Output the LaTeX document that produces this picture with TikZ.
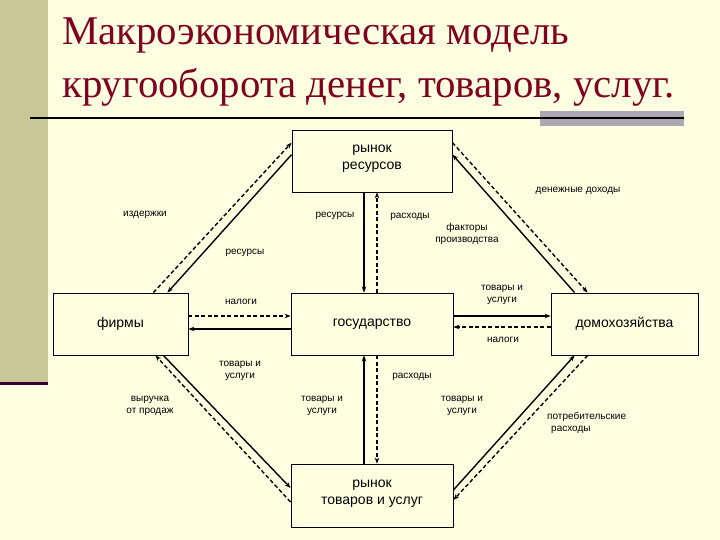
\documentclass[tikz,border=0pt]{standalone}
\usepackage{fontspec}
\setmainfont{Liberation Sans}
\newfontfamily\titlefont{Liberation Serif}
\usetikzlibrary{arrows.meta,positioning}

\definecolor{bgcol}{RGB}{255,255,226}
\definecolor{stripcol}{RGB}{200,200,150}
\definecolor{barcol}{RGB}{172,167,178}
\definecolor{titlecol}{RGB}{128,0,32}
\definecolor{darkline}{RGB}{51,0,51}

\tikzset{
  box/.style={draw,line width=0.8pt,minimum height=62pt,align=center,font=\fontsize{14}{17}\selectfont},
  lbl/.style={align=center,font=\fontsize{10}{12}\selectfont,inner sep=1pt},
  flow/.style={line width=1.4pt,-{Stealth[length=6pt,width=4.5pt]}},
  money/.style={flow,dash pattern=on 4pt off 2.5pt}
}

\begin{document}
\begin{tikzpicture}[x=1pt,y=-1pt]
\useasboundingbox (0,0) rectangle (720,540);
\fill[bgcol] (0,0) rectangle (720,540);
\fill[stripcol] (0,0) rectangle (48,382);
\fill[darkline] (0,382) rectangle (48,385);
\fill[barcol] (540,111) rectangle (684,126);
\draw[line width=2pt] (30,118) -- (684,118);

\node[anchor=base west,text=titlecol,font=\titlefont\fontsize{40.8}{48}\selectfont,inner sep=0pt] (title1) at (62,45) {Макроэкономическая модель};
\node[anchor=base west,text=titlecol,font=\titlefont\fontsize{40.8}{48}\selectfont,inner sep=0pt] (title2) at (62,98) {кругооборота денег, товаров, услуг.};

% boxes
\node[box,minimum width=160pt] (res) at (372,161) {рынок\\ресурсов\\[-10pt]\mbox{}};
\node[box,minimum width=162pt] (gov) at (372,324) {государство};
\node[box,minimum width=135pt] (firm) at (120.5,324) {фирмы};
\node[box,minimum width=147pt] (hh) at (624.5,324) {домохозяйства};
\node[box,minimum width=162pt,minimum height=63pt] (mkt) at (372,495.5) {рынок\\товаров и услуг\\[-10pt]\mbox{}};

% firms -- resource market
\draw[money] ([xshift=-35pt]firm.north east) -- ([yshift=-13pt]res.north west);
\draw[flow] ([yshift=-25pt]res.north west) -- ([xshift=-21pt]firm.north east);
% resource market -- households
\draw[money] ([yshift=-13pt]res.north east) -- ([xshift=37pt]hh.north west);
\draw[flow] ([xshift=24pt]hh.north west) -- ([yshift=-25pt]res.north east);
% resource market -- state
\draw[flow] ([xshift=-8pt]res.south) -- ([xshift=-8pt]gov.north);
\draw[money] ([xshift=5pt]gov.north) -- ([xshift=5pt]res.south);
% state -- goods market
\draw[flow] ([xshift=-8pt]mkt.north) -- ([xshift=-8pt]gov.south);
\draw[money] ([xshift=5pt]gov.south) -- ([xshift=5pt]mkt.north);
% firms -- state
\draw[money] ([yshift=8pt]firm.east) -- ([yshift=8pt]gov.west);
\draw[flow] ([yshift=-5pt]gov.west) -- ([yshift=-5pt]firm.east);
% state -- households
\draw[flow] ([yshift=8pt]gov.east) -- ([yshift=8pt]hh.west);
\draw[money] ([yshift=-3pt]hh.west) -- ([yshift=-3pt]gov.east);
% firms -- goods market
\draw[flow] ([xshift=-25pt]firm.south east) -- ([yshift=7.5pt]mkt.west);
\draw[money] ([yshift=-6.5pt]mkt.west) -- ([xshift=-33pt]firm.south east);
% goods market -- households
\draw[flow] ([yshift=5.5pt]mkt.east) -- ([xshift=24pt]hh.south west);
\draw[money] ([xshift=37pt]hh.south west) -- ([yshift=-4.5pt]mkt.east);

% labels
\foreach \pos/\txt [count=\n] in {(145,215)/{издержки}, (335,216)/{ресурсы}, (245,253)/{ресурсы},
  (410,217)/{расходы}, (467,234)/{факторы\\производства}, (578,191)/{денежные доходы},
  (241,302)/{налоги}, (502,295)/{товары и\\услуги}, (503,340)/{налоги},
  (240,371)/{товары и\\услуги}, (412,377)/{расходы}, (150,406)/{выручка\\от продаж},
  (322,406)/{товары и\\услуги}, (462,406)/{товары и\\услуги}}
  \node[lbl] (L\n) at \pos {\txt};
\node[lbl,anchor=west,align=left] (L15) at (546,423) {потребительские\\\hspace{4pt}расходы};
\end{tikzpicture}
\end{document}
